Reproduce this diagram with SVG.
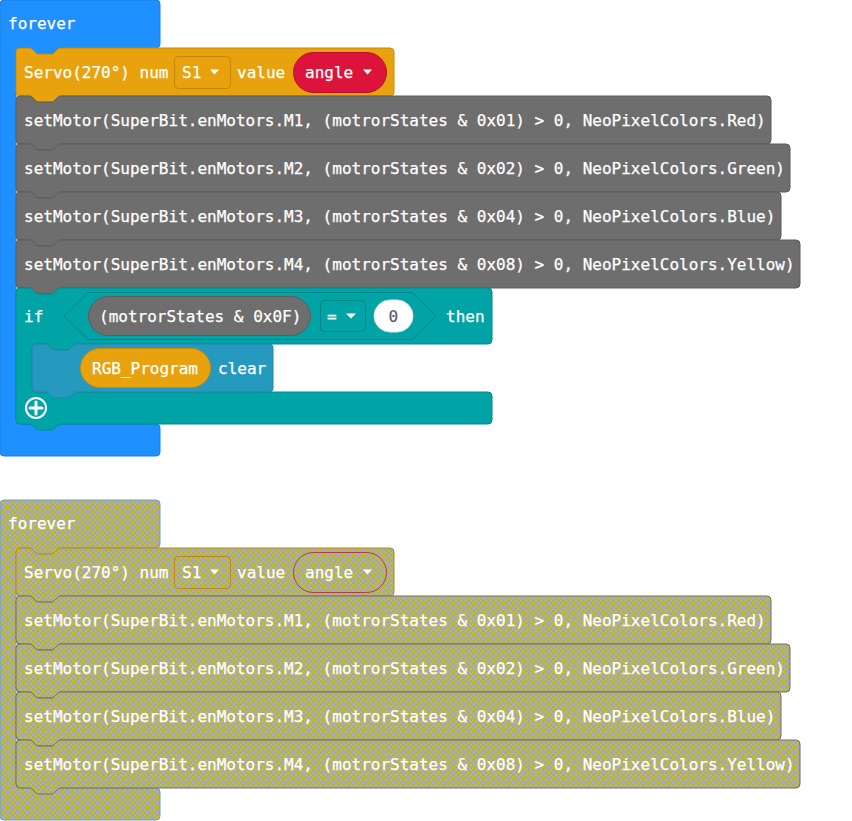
<svg xmlns="http://www.w3.org/2000/svg" width="852" height="821" viewBox="0 0 852 821">
  <defs>
    <!-- hatch used for disabled blocks -->
    <pattern id="disabledHatch" patternUnits="userSpaceOnUse" width="5" height="5">
      <rect width="5" height="5" fill="#a6a6a6"/>
      <path d="M0 0 L5 5 M5 0 L0 5" stroke="#cc0" stroke-width="0.8"/>
    </pattern>
  </defs>
  <style>
    text { font-family: "DejaVu Sans Mono", "Liberation Mono", monospace; font-size: 16px; fill: #fff; stroke: #fff; stroke-width: 0.25px; }
    .num { fill: #575E75; stroke: #575E75; }
    .ev { fill: #1E90FF; stroke: #1B7FE0; }
    .servo { fill: #E7A20D; stroke: #C98B0A; }
    .motor { fill: #6E6E6E; stroke: #5C5C5C; }
    .logic { fill: #00A4A6; stroke: #008B8D; }
    .rgb { fill: #2699BF; stroke: #1F84A6; }
    .pillRed { fill: #DC143C; stroke: #B8102F; }
    .pillGray { fill: #6E6E6E; stroke: #5C5C5C; }
    .pillOrange { fill: #E7A20D; stroke: #C98B0A; }
    .dd { fill: #E7A20D; stroke: #C2870C; }
    .ddLogic { fill: #00A4A6; stroke: #008587; }
    .white { fill: #fff; stroke: #E0E0E0; }
    .tri { fill: #fff; stroke: none; }
    .off { fill: url(#disabledHatch); }
    .offEv { stroke: #6A9FD6; }
    .offServo { stroke: #B58A1E; }
    .offMotor { stroke: #6E6E6E; }
    .offRed { stroke: #B8364E; }
    .offDd { stroke: #C0860F; }
  </style>

  <!-- ===== active program ===== -->
  <g id="forever">
    <path class="ev" d="M0,4 a4,4 0 0 1 4,-4 H156 a4,4 0 0 1 4,4 V44 a4,4 0 0 1 -4,4 H61 c-2,0 -3,1 -4,2 l-3,3 c-1,1 -2,1 -3,1 h-12 c-1,0 -2,0 -3,-1 l-3,-3 c-1,-1 -2,-2 -4,-2 H20 a4,4 0 0 0 -4,4 V420 a4,4 0 0 0 4,4 H156 a4,4 0 0 1 4,4 V452 a4,4 0 0 1 -4,4 H4 a4,4 0 0 1 -4,-4 Z"/>
    <text x="8" y="29">forever</text>
  </g>

  <g id="servo" transform="translate(16,48)">
    <path class="servo" d="M0,4 a4,4 0 0 1 4,-4 h9 c2,0 3,1 4,2 l3,3 c1,1 2,1 3,1 h12 c1,0 2,0 3,-1 l3,-3 c1,-1 2,-2 4,-2 H374 a4,4 0 0 1 4,4 V44 a4,4 0 0 1 -4,4 H45 c-2,0 -3,1 -4,2 l-3,3 c-1,1 -2,1 -3,1 h-12 c-1,0 -2,0 -3,-1 l-3,-3 c-1,-1 -2,-2 -4,-2 H4 a4,4 0 0 1 -4,-4 Z"/>
    <text x="8" y="30">Servo(270°) num</text>
    <rect class="dd" x="158.5" y="8.5" width="56" height="32" rx="4"/>
    <text x="166" y="30">S1</text>
    <path class="tri" d="M194,21.5 h9 l-4.5,5 Z"/>
    <text x="221" y="30">value</text>
    <rect class="pillRed" x="277.5" y="4.5" width="93" height="40" rx="20"/>
    <text x="289" y="30">angle</text>
    <path class="tri" d="M347,21.5 h9 l-4.5,5 Z"/>
  </g>

  <g id="motor1" transform="translate(16,96)">
    <path class="motor" d="M0,4 a4,4 0 0 1 4,-4 h9 c2,0 3,1 4,2 l3,3 c1,1 2,1 3,1 h12 c1,0 2,0 3,-1 l3,-3 c1,-1 2,-2 4,-2 H751 a4,4 0 0 1 4,4 V44 a4,4 0 0 1 -4,4 H45 c-2,0 -3,1 -4,2 l-3,3 c-1,1 -2,1 -3,1 h-12 c-1,0 -2,0 -3,-1 l-3,-3 c-1,-1 -2,-2 -4,-2 H4 a4,4 0 0 1 -4,-4 Z"/>
    <text x="8" y="30">setMotor(SuperBit.enMotors.M1, (motrorStates &amp; 0x01) &gt; 0, NeoPixelColors.Red)</text>
  </g>

  <g id="motor2" transform="translate(16,144)">
    <path class="motor" d="M0,4 a4,4 0 0 1 4,-4 h9 c2,0 3,1 4,2 l3,3 c1,1 2,1 3,1 h12 c1,0 2,0 3,-1 l3,-3 c1,-1 2,-2 4,-2 H770 a4,4 0 0 1 4,4 V44 a4,4 0 0 1 -4,4 H45 c-2,0 -3,1 -4,2 l-3,3 c-1,1 -2,1 -3,1 h-12 c-1,0 -2,0 -3,-1 l-3,-3 c-1,-1 -2,-2 -4,-2 H4 a4,4 0 0 1 -4,-4 Z"/>
    <text x="8" y="30">setMotor(SuperBit.enMotors.M2, (motrorStates &amp; 0x02) &gt; 0, NeoPixelColors.Green)</text>
  </g>

  <g id="motor3" transform="translate(16,192)">
    <path class="motor" d="M0,4 a4,4 0 0 1 4,-4 h9 c2,0 3,1 4,2 l3,3 c1,1 2,1 3,1 h12 c1,0 2,0 3,-1 l3,-3 c1,-1 2,-2 4,-2 H761 a4,4 0 0 1 4,4 V44 a4,4 0 0 1 -4,4 H45 c-2,0 -3,1 -4,2 l-3,3 c-1,1 -2,1 -3,1 h-12 c-1,0 -2,0 -3,-1 l-3,-3 c-1,-1 -2,-2 -4,-2 H4 a4,4 0 0 1 -4,-4 Z"/>
    <text x="8" y="30">setMotor(SuperBit.enMotors.M3, (motrorStates &amp; 0x04) &gt; 0, NeoPixelColors.Blue)</text>
  </g>

  <g id="motor4" transform="translate(16,240)">
    <path class="motor" d="M0,4 a4,4 0 0 1 4,-4 h9 c2,0 3,1 4,2 l3,3 c1,1 2,1 3,1 h12 c1,0 2,0 3,-1 l3,-3 c1,-1 2,-2 4,-2 H780 a4,4 0 0 1 4,4 V44 a4,4 0 0 1 -4,4 H45 c-2,0 -3,1 -4,2 l-3,3 c-1,1 -2,1 -3,1 h-12 c-1,0 -2,0 -3,-1 l-3,-3 c-1,-1 -2,-2 -4,-2 H4 a4,4 0 0 1 -4,-4 Z"/>
    <text x="8" y="30">setMotor(SuperBit.enMotors.M4, (motrorStates &amp; 0x08) &gt; 0, NeoPixelColors.Yellow)</text>
  </g>

  <g id="ifBlock" transform="translate(16,288)">
    <path class="logic" d="M0,4 a4,4 0 0 1 4,-4 h9 c2,0 3,1 4,2 l3,3 c1,1 2,1 3,1 h12 c1,0 2,0 3,-1 l3,-3 c1,-1 2,-2 4,-2 H472 a4,4 0 0 1 4,4 V52 a4,4 0 0 1 -4,4 H61 c-2,0 -3,1 -4,2 l-3,3 c-1,1 -2,1 -3,1 h-12 c-1,0 -2,0 -3,-1 l-3,-3 c-1,-1 -2,-2 -4,-2 H20 a4,4 0 0 0 -4,4 V100 a4,4 0 0 0 4,4 H472 a4,4 0 0 1 4,4 V132 a4,4 0 0 1 -4,4 H45 c-2,0 -3,1 -4,2 l-3,3 c-1,1 -2,1 -3,1 h-12 c-1,0 -2,0 -3,-1 l-3,-3 c-1,-1 -2,-2 -4,-2 H4 a4,4 0 0 1 -4,-4 Z"/>
    <text x="8" y="34">if</text>
    <polygon class="ddLogic" points="48,28 72,4.5 396,4.5 420,28 396,51.5 72,51.5"/>
    <rect class="pillGray" x="72.5" y="8.5" width="222" height="39" rx="19.5"/>
    <text x="83" y="34">(motrorStates &amp; 0x0F)</text>
    <rect class="ddLogic" x="304.5" y="12.5" width="45" height="31" rx="4"/>
    <text x="311" y="34">=</text>
    <path class="tri" d="M330,25.5 h10 l-5,5 Z"/>
    <rect class="white" x="358" y="12" width="39" height="32" rx="16"/>
    <text class="num" x="372.5" y="34">0</text>
    <text x="430" y="34">then</text>
    <!-- add-clause button -->
    <circle cx="20" cy="120" r="10" fill="none" stroke="#fff" stroke-width="2"/>
    <path d="M20,114 V126 M14,120 H26" stroke="#fff" stroke-width="3" stroke-linecap="round"/>
  </g>

  <g id="rgbClear" transform="translate(32,344)">
    <path class="rgb" d="M0,4 a4,4 0 0 1 4,-4 h9 c2,0 3,1 4,2 l3,3 c1,1 2,1 3,1 h12 c1,0 2,0 3,-1 l3,-3 c1,-1 2,-2 4,-2 H237 a4,4 0 0 1 4,4 V44 a4,4 0 0 1 -4,4 H45 c-2,0 -3,1 -4,2 l-3,3 c-1,1 -2,1 -3,1 h-12 c-1,0 -2,0 -3,-1 l-3,-3 c-1,-1 -2,-2 -4,-2 H4 a4,4 0 0 1 -4,-4 Z"/>
    <rect class="pillOrange" x="48.5" y="4.5" width="130" height="39" rx="19.5"/>
    <text x="60" y="30">RGB_Program</text>
    <text x="186" y="30">clear</text>
  </g>

  <!-- ===== disabled copy ===== -->
  <g id="foreverOff" transform="translate(0,500)">
    <path class="off offEv" d="M0,4 a4,4 0 0 1 4,-4 H156 a4,4 0 0 1 4,4 V44 a4,4 0 0 1 -4,4 H61 c-2,0 -3,1 -4,2 l-3,3 c-1,1 -2,1 -3,1 h-12 c-1,0 -2,0 -3,-1 l-3,-3 c-1,-1 -2,-2 -4,-2 H20 a4,4 0 0 0 -4,4 V284 a4,4 0 0 0 4,4 H156 a4,4 0 0 1 4,4 V316 a4,4 0 0 1 -4,4 H4 a4,4 0 0 1 -4,-4 Z"/>
    <text x="8" y="29">forever</text>
  </g>

  <g id="servoOff" transform="translate(16,548)">
    <path class="off offServo" d="M0,4 a4,4 0 0 1 4,-4 h9 c2,0 3,1 4,2 l3,3 c1,1 2,1 3,1 h12 c1,0 2,0 3,-1 l3,-3 c1,-1 2,-2 4,-2 H374 a4,4 0 0 1 4,4 V44 a4,4 0 0 1 -4,4 H45 c-2,0 -3,1 -4,2 l-3,3 c-1,1 -2,1 -3,1 h-12 c-1,0 -2,0 -3,-1 l-3,-3 c-1,-1 -2,-2 -4,-2 H4 a4,4 0 0 1 -4,-4 Z"/>
    <text x="8" y="30">Servo(270°) num</text>
    <rect class="off offDd" x="158.5" y="8.5" width="56" height="32" rx="4"/>
    <text x="166" y="30">S1</text>
    <path class="tri" d="M194,21.5 h9 l-4.5,5 Z"/>
    <text x="221" y="30">value</text>
    <rect class="off offRed" x="277.5" y="4.5" width="93" height="40" rx="20"/>
    <text x="289" y="30">angle</text>
    <path class="tri" d="M347,21.5 h9 l-4.5,5 Z"/>
  </g>

  <g id="motor1Off" transform="translate(16,596)">
    <path class="off offMotor" d="M0,4 a4,4 0 0 1 4,-4 h9 c2,0 3,1 4,2 l3,3 c1,1 2,1 3,1 h12 c1,0 2,0 3,-1 l3,-3 c1,-1 2,-2 4,-2 H751 a4,4 0 0 1 4,4 V44 a4,4 0 0 1 -4,4 H45 c-2,0 -3,1 -4,2 l-3,3 c-1,1 -2,1 -3,1 h-12 c-1,0 -2,0 -3,-1 l-3,-3 c-1,-1 -2,-2 -4,-2 H4 a4,4 0 0 1 -4,-4 Z"/>
    <text x="8" y="30">setMotor(SuperBit.enMotors.M1, (motrorStates &amp; 0x01) &gt; 0, NeoPixelColors.Red)</text>
  </g>

  <g id="motor2Off" transform="translate(16,644)">
    <path class="off offMotor" d="M0,4 a4,4 0 0 1 4,-4 h9 c2,0 3,1 4,2 l3,3 c1,1 2,1 3,1 h12 c1,0 2,0 3,-1 l3,-3 c1,-1 2,-2 4,-2 H770 a4,4 0 0 1 4,4 V44 a4,4 0 0 1 -4,4 H45 c-2,0 -3,1 -4,2 l-3,3 c-1,1 -2,1 -3,1 h-12 c-1,0 -2,0 -3,-1 l-3,-3 c-1,-1 -2,-2 -4,-2 H4 a4,4 0 0 1 -4,-4 Z"/>
    <text x="8" y="30">setMotor(SuperBit.enMotors.M2, (motrorStates &amp; 0x02) &gt; 0, NeoPixelColors.Green)</text>
  </g>

  <g id="motor3Off" transform="translate(16,692)">
    <path class="off offMotor" d="M0,4 a4,4 0 0 1 4,-4 h9 c2,0 3,1 4,2 l3,3 c1,1 2,1 3,1 h12 c1,0 2,0 3,-1 l3,-3 c1,-1 2,-2 4,-2 H761 a4,4 0 0 1 4,4 V44 a4,4 0 0 1 -4,4 H45 c-2,0 -3,1 -4,2 l-3,3 c-1,1 -2,1 -3,1 h-12 c-1,0 -2,0 -3,-1 l-3,-3 c-1,-1 -2,-2 -4,-2 H4 a4,4 0 0 1 -4,-4 Z"/>
    <text x="8" y="30">setMotor(SuperBit.enMotors.M3, (motrorStates &amp; 0x04) &gt; 0, NeoPixelColors.Blue)</text>
  </g>

  <g id="motor4Off" transform="translate(16,740)">
    <path class="off offMotor" d="M0,4 a4,4 0 0 1 4,-4 h9 c2,0 3,1 4,2 l3,3 c1,1 2,1 3,1 h12 c1,0 2,0 3,-1 l3,-3 c1,-1 2,-2 4,-2 H780 a4,4 0 0 1 4,4 V44 a4,4 0 0 1 -4,4 H45 c-2,0 -3,1 -4,2 l-3,3 c-1,1 -2,1 -3,1 h-12 c-1,0 -2,0 -3,-1 l-3,-3 c-1,-1 -2,-2 -4,-2 H4 a4,4 0 0 1 -4,-4 Z"/>
    <text x="8" y="30">setMotor(SuperBit.enMotors.M4, (motrorStates &amp; 0x08) &gt; 0, NeoPixelColors.Yellow)</text>
  </g>

  <!-- blocks are stacked directly; no separate wires -->
  <g id="connectors"/>
</svg>
